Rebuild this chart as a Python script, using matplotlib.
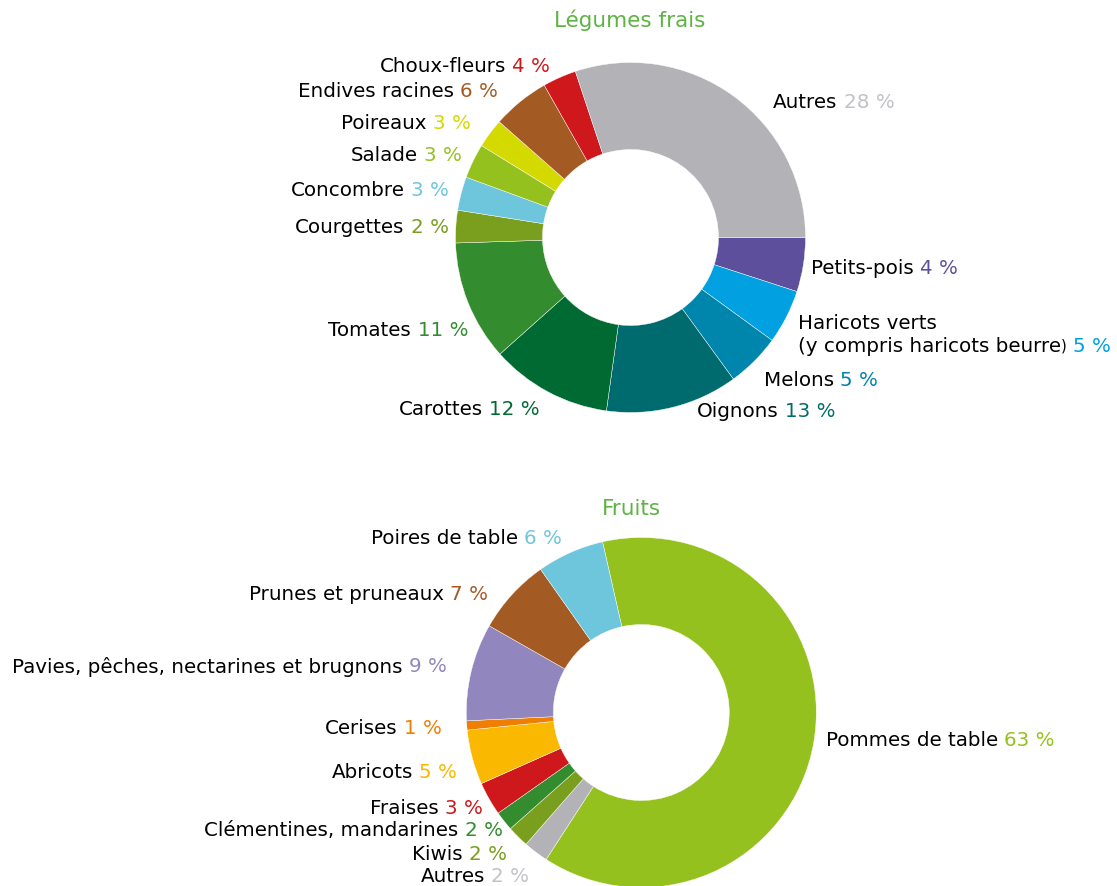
import matplotlib
matplotlib.use("Agg")
import matplotlib.pyplot as plt

plt.rcParams["font.family"] = ["DejaVu Sans"]

W, H = 1117, 886
FS = 14.3
GAP = 4.5  # points between name and percentage

veg_labels = ["Petits-pois", "Haricots verts", "Melons", "Oignons", "Carottes",
              "Tomates", "Courgettes", "Concombre", "Salade", "Poireaux",
              "Endives racines", "Choux-fleurs", "Autres"]
# printed percentages
veg_pct = [4, 5, 5, 13, 12, 11, 2, 3, 3, 3, 6, 4, 28]
# slice sizes as drawn in the picture (they don't follow the labels exactly)
veg_share = [5.0, 5.0, 5.0, 12.2, 11.2, 11.1, 3.0, 3.1, 3.2, 2.7, 5.3, 3.1, 30.1]
veg_colors = ["#5e4f9c", "#00a0e1", "#0085ad", "#006b6e", "#006a33",
              "#338c2e", "#7a9e1e", "#6ec6dd", "#95c11f", "#d4d900",
              "#a45a23", "#cf181c", "#b3b3b7"]

fruit_labels = ["Pommes de table", "Autres", "Kiwis", "Clémentines, mandarines",
                "Fraises", "Abricots", "Cerises",
                "Pavies, pêches, nectarines et brugnons", "Prunes et pruneaux",
                "Poires de table"]
fruit_pct = [63, 2, 2, 2, 3, 5, 1, 9, 7, 6]
fruit_share = [62.7, 2.3, 2.0, 1.8, 3.1, 5.05, 0.85, 9.0, 7.0, 6.2]
fruit_colors = ["#95c11f", "#b3b3b7", "#7a9e1e", "#338c2e", "#cf181c",
                "#fbb800", "#ee7f00", "#9186bd", "#a45a23", "#6ec6dd"]

# label anchors in pixels (x, y centre, alignment)
veg_pos = [(811, 268, "left"), (798, 323, "left"), (764, 380, "left"),
           (697, 411, "left"), (540, 409, "right"), (468, 330, "right"),
           (449, 227, "right"), (449, 190, "right"), (462, 155, "right"),
           (471, 123, "right"), (498, 91, "right"), (550, 66, "right"),
           (773, 102, "left")]
fruit_pos = [(826, 740, "left"), (529, 877, "right"), (507, 855, "right"),
             (503, 831, "right"), (483, 808, "right"), (457, 773, "right"),
             (442, 729, "right"), (447, 667, "right"), (488, 594, "right"),
             (562, 539, "right")]

GREY_PCT = "#c2c2c6"
TITLE_GREEN = "#5db443"


def label(ax, x, y, ha, name, pct, color):
    y = H - y
    if ha == "left":
        t = ax.text(x, y, name, ha="left", va="center", fontsize=FS)
        ax.annotate(pct, xy=(1, 0.5), xycoords=t, xytext=(GAP, 0),
                    textcoords="offset points", ha="left", va="center",
                    fontsize=FS, color=color)
    else:
        t = ax.text(x, y, pct, ha="right", va="center", fontsize=FS, color=color)
        ax.annotate(name, xy=(0, 0.5), xycoords=t, xytext=(-GAP, 0),
                    textcoords="offset points", ha="right", va="center",
                    fontsize=FS)


def donut(ax, shares, pcts, colors, names, pos, centre, start):
    ax.pie(shares, colors=colors, center=(centre[0], H - centre[1]), radius=175,
           startangle=start, counterclock=False,
           wedgeprops=dict(width=87, edgecolor="white", linewidth=0.3))
    for v, c, n, (x, y, ha) in zip(pcts, colors, names, pos):
        pc = GREY_PCT if n == "Autres" else c
        if n == "Haricots verts":
            ax.text(x, H - y, n, ha="left", va="center", fontsize=FS)
            t = ax.text(x, H - y - 23, "(y compris haricots beurre", ha="left",
                        va="center", fontsize=FS)
            t2 = ax.annotate(")", xy=(1, 0.5), xycoords=t, ha="left",
                             va="center", fontsize=FS * 0.75)
            ax.annotate(f"{v} %", xy=(1, 0.5), xycoords=t2, xytext=(GAP, 0),
                        textcoords="offset points", ha="left", va="center",
                        fontsize=FS, color=pc)
        else:
            label(ax, x, y, ha, n, f"{v} %", pc)


fig = plt.figure(figsize=(W / 100, H / 100), dpi=100)
ax = fig.add_axes([0, 0, 1, 1])

donut(ax, veg_share, veg_pct, veg_colors, veg_labels, veg_pos, (630.5, 237.5), 0)
donut(ax, fruit_share, fruit_pct, fruit_colors, fruit_labels, fruit_pos,
      (641.3, 712.5), 102.8)

ax.text(630, H - 20, "Légumes frais", ha="center", va="center",
        fontsize=15.5, color=TITLE_GREEN)
ax.text(631, H - 509, "Fruits", ha="center", va="center",
        fontsize=15.5, color=TITLE_GREEN)

ax.set_xlim(0, W)
ax.set_ylim(0, H)
ax.set_aspect("equal")
ax.axis("off")

fig.savefig("out.png", dpi=100)
